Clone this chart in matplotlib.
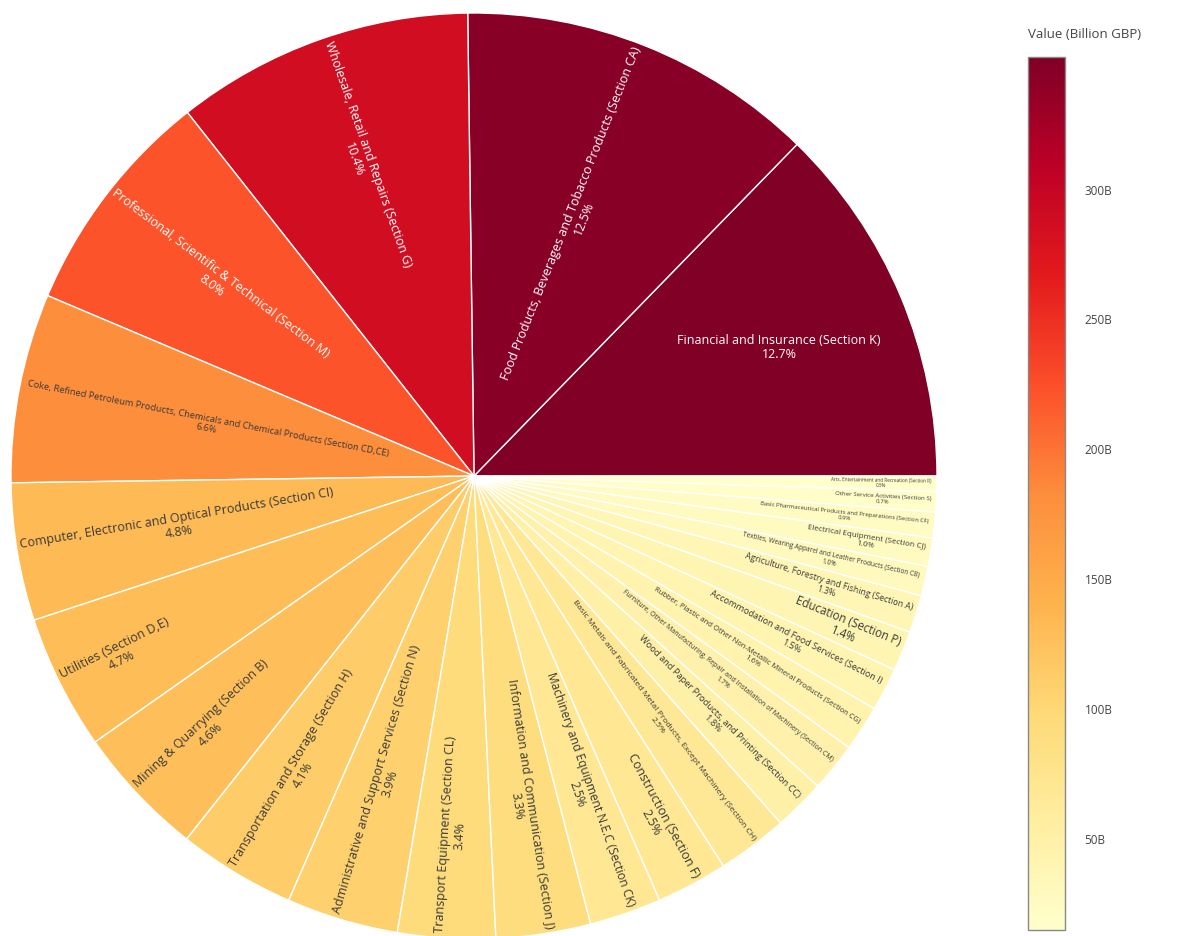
import numpy as np
import matplotlib.pyplot as plt
from matplotlib import colors
from matplotlib.cm import ScalarMappable
from matplotlib.textpath import TextPath
from matplotlib.font_manager import FontProperties

# UK sector output, billion GBP (sorted largest first)
sectors = [
    "Financial and Insurance (Section K)",
    "Food Products, Beverages and Tobacco Products (Section CA)",
    "Wholesale, Retail and Repairs (Section G)",
    "Professional, Scientific & Technical (Section M)",
    "Coke, Refined Petroleum Products, Chemicals and Chemical Products (Section CD,CE)",
    "Computer, Electronic and Optical Products (Section CI)",
    "Utilities (Section D,E)",
    "Mining & Quarrying (Section B)",
    "Transportation and Storage (Section H)",
    "Administrative and Support Services (Section N)",
    "Transport Equipment (Section CL)",
    "Information and Communication (Section J)",
    "Machinery and Equipment N.E.C (Section CK)",
    "Construction (Section F)",
    "Basic Metals and Fabricated Metal Products, Except Machinery (Section CH)",
    "Wood and Paper Products, and Printing (Section CC)",
    "Furniture, Other Manufacturing, Repair and Installation of Machinery (Section CM)",
    "Rubber, Plastic and Other Non-Metallic Mineral Products (Section CG)",
    "Accommodation and Food Services (Section I)",
    "Education (Section P)",
    "Agriculture, Forestry and Fishing (Section A)",
    "Textiles, Wearing Apparel and Leather Products (Section CB)",
    "Electrical Equipment (Section CJ)",
    "Basic Pharmaceutical Products and Preparations (Section CF)",
    "Other Service Activities (Section S)",
    "Arts, Entertainment and Recreation (Section R)",
]
values = [351.0, 345.5, 287.5, 221.1, 182.4, 132.7, 129.9, 127.1, 113.3, 107.8,
          94.0, 91.2, 69.3, 68.9, 68.0, 49.8, 47.0, 44.2, 41.5, 38.7,
          36.2, 28.5, 27.4, 24.6, 19.4, 15.0]
cbar_ticks = [50, 100, 150, 200, 250, 300]

W, H, DPI = 1185, 936, 100
R_PX = 463.0
CX, CY = 474.0, 476.0
MAX_FS = 12.5  # px
FONT = "Open Sans"
fp = FontProperties(family=FONT)

plt.rcParams["font.family"] = [FONT, "DejaVu Sans"]
fig = plt.figure(figsize=(W / DPI, H / DPI), dpi=DPI)
fig.patch.set_facecolor("white")

ax = fig.add_axes([(CX - R_PX) / W, (H - CY - R_PX) / H, 2 * R_PX / W, 2 * R_PX / H])
cmap = plt.get_cmap("YlOrRd")
norm = colors.Normalize(vmin=min(values), vmax=max(values))
face = cmap(norm(np.array(values)))

wedges, _ = ax.pie(values, colors=face, startangle=0, counterclock=True,
                   radius=1.0, wedgeprops=dict(edgecolor="white", linewidth=1.0))
ax.set_xlim(-1, 1)
ax.set_ylim(-1, 1)
ax.set_aspect("equal")
ax.axis("off")

total = float(sum(values))


def text_width(s):
    return TextPath((0, 0), s, size=1, prop=fp).get_extents().width


def box_fits(cx, cy, w, h, t1, t2):
    for dx in (-w / 2, w / 2):
        for dy in (-h / 2, h / 2):
            x, y = cx + dx, cy + dy
            if np.hypot(x, y) > R_PX - 4:
                return False
            a = np.degrees(np.arctan2(y, x)) % 360
            if not (t1 + 0.5 <= a <= t2 - 0.5):
                return False
    return True


for w, name, v, fc in zip(wedges, sectors, values, face):
    t1, t2 = w.theta1, w.theta2
    mid = (t1 + t2) / 2
    span = np.radians(t2 - t1)
    pct = f"{100 * v / total:.1f}%"
    unit_w = max(text_width(name), text_width(pct))
    lum = 0.299 * fc[0] + 0.587 * fc[1] + 0.114 * fc[2]
    tcol = "white" if lum < 0.55 else "#3a3a3a"

    # horizontal label only for wide slices where it fits at full size
    hx = 0.715 * R_PX * np.cos(np.radians(mid))
    hy = 0.715 * R_PX * np.sin(np.radians(mid))
    if t2 - t1 > 30 and box_fits(hx, hy, unit_w * MAX_FS, 2.4 * MAX_FS, t1, t2):
        fs, rot, px, py = MAX_FS, 0, hx, hy
    else:
        fs = min(MAX_FS,
                 0.92 * R_PX * span / (2.4 + unit_w * span),
                 0.9 * R_PX / unit_w)
        rc = R_PX - 6 - unit_w * fs / 2
        px = rc * np.cos(np.radians(mid))
        py = rc * np.sin(np.radians(mid))
        rot = mid - 360 if mid > 270 else (mid - 180 if mid > 90 else mid)
    ax.text(px / R_PX, py / R_PX, name + "\n" + pct, rotation=rot,
            rotation_mode="anchor", ha="center", va="center",
            multialignment="center", fontsize=fs * 72 / DPI, color=tcol,
            linespacing=1.15)

# colour bar
cax = fig.add_axes([1028 / W, (H - 930) / H, 37 / W, 873 / H])
cb = fig.colorbar(ScalarMappable(norm=norm, cmap=cmap), cax=cax)
cb.set_ticks(cbar_ticks)
cb.set_ticklabels([f"{t}B" for t in cbar_ticks])
cb.ax.tick_params(length=0, pad=14, labelsize=8.5, labelcolor="#444444")
cb.outline.set_edgecolor("#888888")
cb.outline.set_linewidth(1.0)
fig.text(1028 / W, 1 - 35 / H, "Value (Billion GBP)", ha="left", va="center",
         fontsize=9.5, color="#444444")

fig.savefig("out.png", dpi=DPI, facecolor="white")
